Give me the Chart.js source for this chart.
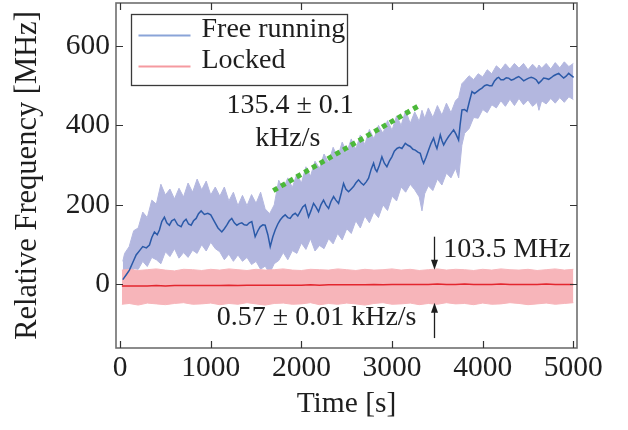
<!DOCTYPE html>
<html>
<head>
<meta charset="utf-8">
<script src="https://cdn.jsdelivr.net/npm/chart.js@4.4.0/dist/chart.umd.min.js"></script>
<style>
  html, body { margin: 0; padding: 0; background: #fff; }
  #wrap { width: 628px; height: 430px; }
</style>
</head>
<body>
<div id="wrap"><canvas id="freqChart" width="628" height="430"></canvas></div>
<script>
// axis ticks
const xTicks = [0, 1000, 2000, 3000, 4000, 5000];
const yTicks = [0, 200, 400, 600];

// free running: smoothed trace
const freeT = [30, 70, 103, 140, 177, 215, 250, 290, 324, 350, 379, 410, 434, 460, 489, 515, 544, 570, 600, 635,
  673, 700, 728, 755, 784, 810, 839, 865, 894, 930, 968, 1000, 1041, 1080, 1122, 1150, 1177, 1205, 1232, 1260,
  1288, 1315, 1343, 1370, 1398, 1425, 1453, 1490, 1520, 1545, 1575, 1600, 1630, 1656, 1685, 1711, 1740, 1766, 1795, 1821,
  1850, 1876, 1905, 1932, 1960, 1987, 2015, 2042, 2079, 2105, 2134, 2160, 2189, 2215, 2244, 2270, 2300, 2325, 2355, 2380,
  2410, 2440, 2465, 2490, 2520, 2550, 2575, 2600, 2630, 2660, 2686, 2715, 2741, 2770, 2796, 2815, 2833, 2860, 2888, 2915,
  2943, 2970, 2998, 3025, 3054, 3080, 3109, 3146, 3175, 3201, 3230, 3256, 3285, 3311, 3330, 3348, 3375, 3403, 3430, 3458,
  3478, 3495, 3515, 3532, 3550, 3569, 3595, 3624, 3650, 3679, 3705, 3734, 3750, 3771, 3800, 3826, 3855, 3882, 3910, 3937,
  3965, 3992, 4020, 4047, 4075, 4102, 4130, 4158, 4176, 4200, 4231, 4260, 4286, 4315, 4342, 4370, 4397, 4425, 4452, 4480,
  4507, 4535, 4562, 4590, 4617, 4645, 4672, 4700, 4728, 4755, 4783, 4810, 4838, 4865, 4893, 4920, 4948, 4975, 5003];
const freeMean = [12, 25, 36, 55, 74, 85, 95, 92, 99, 118, 132, 125, 137, 158, 169, 155, 149, 160, 164, 150,
  145, 158, 164, 152, 149, 160, 166, 178, 185, 176, 179, 175, 158, 142, 132, 140, 149, 160, 166, 155,
  149, 153, 155, 150, 149, 155, 158, 120, 135, 145, 150, 149, 125, 95, 120, 137, 152, 162, 170, 175,
  168, 166, 175, 179, 172, 183, 195, 200, 170, 185, 204, 195, 183, 200, 212, 200, 191, 208, 221, 212,
  204, 230, 254, 240, 233, 240, 246, 255, 263, 255, 250, 258, 267, 290, 305, 290, 284, 300, 321, 305,
  296, 310, 321, 335, 342, 345, 342, 355, 350, 347, 340, 338, 333, 330, 315, 305, 320, 338, 355, 368,
  352, 342, 360, 376, 362, 351, 362, 372, 380, 389, 378, 363, 400, 439, 440, 435, 462, 485, 480, 485,
  490, 494, 500, 502, 500, 500, 512, 519, 521, 515, 515, 520, 519, 514, 516, 520, 523, 518, 512, 516,
  519, 521, 519, 515, 506, 512, 519, 518, 516, 520, 525, 528, 531, 525, 519, 524, 531, 526, 521];

// free running: raw signal envelope
const bandT = [30, 50, 100, 150, 200, 250, 300, 350, 400, 450,
  500, 550, 600, 650, 700, 750, 800, 850, 900, 950,
  1000, 1050, 1100, 1150, 1200, 1250, 1300, 1350, 1400, 1450,
  1500, 1550, 1600, 1650, 1700, 1750, 1800, 1850, 1900, 1950,
  2000, 2050, 2100, 2150, 2200, 2250, 2300, 2350, 2400, 2450,
  2500, 2550, 2600, 2650, 2700, 2750, 2800, 2850, 2900, 2950,
  3000, 3050, 3100, 3150, 3200, 3250, 3300, 3330, 3360,
  3400, 3450, 3500, 3550, 3600, 3650, 3700, 3735, 3770,
  3800, 3850, 3900, 3950, 4000, 4050, 4100, 4150, 4200, 4250, 4300, 4350, 4400, 4450, 4500, 4550, 4600, 4620,
  4650, 4700, 4750, 4800, 4850, 4900, 4950, 5000];
const bandHi = [58, 78, 95, 135, 142, 182, 168, 212, 202, 252,
  225, 240, 215, 242, 220, 255, 232, 265, 238, 260,
  225, 245, 222, 245, 210, 232, 198, 224, 198, 226,
  204, 232, 190, 178, 200, 262, 240, 268, 244, 278,
  255, 296, 272, 310, 292, 328, 306, 345, 320, 358,
  332, 366, 340, 376, 352, 390, 366, 400, 380, 412,
  388, 424, 400, 438, 405, 434, 410, 438, 418,
  444, 420, 450, 426, 456, 432, 462, 470, 505,
  512, 525, 515, 530, 522, 540, 530, 550, 540, 555, 542, 556, 544, 556, 540, 554, 542, 552,
  544, 556, 542, 558, 545, 560, 548, 556];
const bandLo = [-20, 5, 15, 40, 38, 58, 45, 68, 62, 52,
  82, 70, 90, 66, 80, 68, 86, 78, 100, 84,
  106, 90, 82, 62, 76, 58, 74, 58, 68, 50,
  58, 38, 46, 28, 52, 60, 80, 62, 85, 78,
  104, 88, 115, 84, 98, 90, 115, 102, 128, 112,
  140, 128, 160, 142, 172, 155, 182, 168, 200, 186,
  222, 210, 245, 232, 252, 238, 220, 185, 228,
  248, 236, 265, 250, 280, 268, 292, 268, 350,
  380, 392, 420, 418, 440, 432, 452, 444, 462, 448, 466, 450, 468, 452, 464, 448, 458, 438,
  462, 454, 468, 456, 470, 458, 472, 465];

// locked laser
const lockT = [20, 100, 200, 300, 400, 500, 600, 700, 800, 900, 1000, 1100, 1200, 1300, 1400, 1500, 1600, 1700,
  1800, 1900, 2000, 2100, 2200, 2300, 2400, 2500, 2600, 2700, 2800, 2900, 3000, 3100, 3200, 3300, 3400,
  3500, 3600, 3700, 3800, 3900, 4000, 4100, 4200, 4300, 4400, 4500, 4600, 4700, 4800, 4900, 5000];
const lockHi = [36, 38, 35, 37, 39, 36, 34, 38, 37, 35, 38, 36, 39, 37, 35, 38, 36, 37, 39, 36,
  35, 38, 37, 36, 39, 37, 35, 38, 36, 37, 39, 36, 38, 35, 37, 39, 36, 38, 37, 35,
  38, 36, 39, 37, 36, 38, 35, 37, 39, 36, 38];
const lockLo = [-50, -48, -52, -47, -49, -51, -48, -46, -50, -49, -47, -51, -48, -50, -46, -49, -52, -48, -47, -50,
  -49, -46, -51, -48, -50, -47, -49, -52, -48, -46, -50, -49, -47, -51, -48, -50, -46, -49, -48, -51,
  -47, -50, -49, -46, -48, -51, -49, -47, -50, -48, -46];
const lockMean = [-4, -4, -4, -4, -3, -4, -3, -3, -3, -3, -3, -3, -2, -3, -2, -2, -2, -2, -2, -2,
  -2, -1, -2, -1, -1, -1, -1, -1, 0, -1, 0, 0, 0, 0, 0, 1, 0, 0, 1, 0,
  0, 0, 1, 0, 0, 0, 0, 1, 0, 0, 0];

// linear drift fit (green dotted)
const fitT = [1690, 3292];
const fitY = [236, 449];

const SERIF = '"Liberation Serif", "Times New Roman", serif';
const INK = '#1e1e1e';

function pts(xs, ys) {
    return xs.map((x, i) => ({ x: x, y: ys[i] }));
}

// box frame with ticks pointing inwards on all four sides
const framePlugin = {
    id: 'frame',
    afterDraw(chart) {
        const { ctx, chartArea: a, scales: { x, y } } = chart;
        ctx.save();
        ctx.strokeStyle = '#6e6e6e';
        ctx.lineWidth = 1.6;
        ctx.strokeRect(a.left, a.top, a.right - a.left, a.bottom - a.top);
        ctx.strokeStyle = '#333';
        ctx.lineWidth = 1.2;
        ctx.beginPath();
        xTicks.forEach(v => {
            const px = Math.round(x.getPixelForValue(v)) + 0.5;
            ctx.moveTo(px, a.bottom); ctx.lineTo(px, a.bottom - 7);
            ctx.moveTo(px, a.top); ctx.lineTo(px, a.top + 7);
        });
        yTicks.forEach(v => {
            const py = Math.round(y.getPixelForValue(v)) + 0.5;
            ctx.moveTo(a.left, py); ctx.lineTo(a.left + 7, py);
            ctx.moveTo(a.right, py); ctx.lineTo(a.right - 7, py);
        });
        ctx.stroke();
        ctx.restore();
    }
};

function arrow(ctx, x, y0, y1) {
    const dir = y1 > y0 ? 1 : -1;
    ctx.beginPath();
    ctx.moveTo(x, y0);
    ctx.lineTo(x, y1 - dir * 8);
    ctx.stroke();
    ctx.beginPath();
    ctx.moveTo(x, y1);
    ctx.lineTo(x - 3.5, y1 - dir * 10);
    ctx.lineTo(x + 3.5, y1 - dir * 10);
    ctx.closePath();
    ctx.fill();
}

// legend box and text annotations
const notesPlugin = {
    id: 'notes',
    afterDraw(chart) {
        const { ctx, chartArea: a, scales: { x, y } } = chart;
        ctx.save();

        // legend
        const lx = a.left + 15.5, ly = a.top + 11.5;
        ctx.fillStyle = '#fff';
        ctx.fillRect(lx, ly, 216, 71);
        ctx.strokeStyle = '#3a3a3a';
        ctx.lineWidth = 1.3;
        ctx.strokeRect(lx, ly, 216, 71);
        ctx.lineWidth = 2;
        ctx.strokeStyle = '#8aa4d8';
        ctx.beginPath(); ctx.moveTo(lx + 7, ly + 21); ctx.lineTo(lx + 59, ly + 21); ctx.stroke();
        ctx.strokeStyle = '#f59aa0';
        ctx.beginPath(); ctx.moveTo(lx + 7, ly + 52); ctx.lineTo(lx + 59, ly + 52); ctx.stroke();
        ctx.fillStyle = INK;
        ctx.font = '28px ' + SERIF;
        ctx.textBaseline = 'alphabetic';
        ctx.textAlign = 'left';
        ctx.fillText('Free running', lx + 70, ly + 22);
        ctx.fillText('Locked', lx + 70, ly + 53);

        // slope labels
        ctx.textAlign = 'center';
        ctx.fillText('135.4 \u00b1 0.1', x.getPixelForValue(1876), y.getPixelForValue(430));
        ctx.fillText('kHz/s', x.getPixelForValue(1850), y.getPixelForValue(348));
        ctx.textAlign = 'left';
        ctx.fillText('103.5 MHz', x.getPixelForValue(3565), y.getPixelForValue(69));
        ctx.fillText('0.57 \u00b1 0.01 kHz/s', x.getPixelForValue(1067), y.getPixelForValue(-102));

        // width arrows
        ctx.strokeStyle = INK;
        ctx.fillStyle = INK;
        ctx.lineWidth = 1.3;
        const ax = Math.round(x.getPixelForValue(3466)) + 0.5;
        arrow(ctx, ax, y.getPixelForValue(120), y.getPixelForValue(37));
        arrow(ctx, ax, y.getPixelForValue(-135), y.getPixelForValue(-46));
        ctx.restore();
    }
};

const ctxFreq = document.getElementById('freqChart').getContext('2d');
const freqChart = new Chart(ctxFreq, {
    type: 'line',
    data: {
        datasets: [
            {
                label: 'Free running low',
                data: pts(bandT, bandLo),
                borderColor: '#b3b7df',
                borderWidth: 1,
                fill: false,
                order: 10
            },
            {
                label: 'Free running high',
                data: pts(bandT, bandHi),
                borderColor: '#b3b7df',
                backgroundColor: '#b3b7df',
                borderWidth: 1,
                fill: '-1',
                order: 9
            },
            {
                label: 'Locked low',
                data: pts(lockT, lockLo),
                borderColor: '#f7b5ba',
                borderWidth: 1,
                fill: false,
                order: 8
            },
            {
                label: 'Locked high',
                data: pts(lockT, lockHi),
                borderColor: '#f7b5ba',
                backgroundColor: '#f7b5ba',
                borderWidth: 1,
                fill: '-1',
                order: 7
            },
            {
                label: 'Locked',
                data: pts(lockT, lockMean),
                borderColor: '#e3262e',
                borderWidth: 1.5,
                fill: false,
                order: 3
            },
            {
                label: 'Free running',
                data: pts(freeT, freeMean),
                borderColor: '#2b5aa8',
                borderWidth: 1.5,
                fill: false,
                order: 1
            },
            {
                label: 'Fit',
                data: pts(fitT, fitY),
                borderColor: '#4cb83a',
                borderWidth: 5,
                borderDash: [5, 4],
                borderCapStyle: 'butt',
                fill: false,
                order: 2
            }
        ]
    },
    options: {
        responsive: false,
        animation: false,
        devicePixelRatio: 1,
        layout: { padding: { top: 3, right: 51, left: 0, bottom: 0 } },
        elements: { point: { radius: 0 }, line: { tension: 0 } },
        plugins: {
            legend: { display: false },
            tooltip: { enabled: false }
        },
        scales: {
            x: {
                type: 'linear',
                min: -45,
                max: 5040,
                grid: { display: false, drawTicks: false },
                border: { display: false },
                afterBuildTicks: function(scale) {
                    scale.ticks = xTicks.map(v => ({ value: v }));
                },
                afterFit: function(scale) {
                    scale.height = 82;
                    scale.paddingLeft = 0;
                    scale.paddingRight = 0;
                },
                ticks: {
                    autoSkip: false,
                    maxRotation: 0,
                    padding: 3,
                    color: INK,
                    font: { family: SERIF, size: 29.5 },
                    callback: function(value) { return String(value); }
                },
                title: {
                    display: true,
                    text: 'Time [s]',
                    color: INK,
                    font: { family: SERIF, size: 29.5 },
                    padding: { top: 0, bottom: 8 }
                }
            },
            y: {
                type: 'linear',
                min: -160,
                max: 708,
                grid: { display: false, drawTicks: false },
                border: { display: false },
                afterBuildTicks: function(scale) {
                    scale.ticks = yTicks.map(v => ({ value: v }));
                },
                afterFit: function(scale) {
                    scale.width = 116;
                    scale.paddingTop = 0;
                    scale.paddingBottom = 0;
                },
                ticks: {
                    padding: 6,
                    color: INK,
                    font: { family: SERIF, size: 29.5 },
                    callback: function(value) { return String(value); }
                },
                title: {
                    display: true,
                    text: 'Relative Frequency [MHz]',
                    color: INK,
                    font: { family: SERIF, size: 30.5 },
                    padding: { top: 10, bottom: 0 }
                }
            }
        }
    },
    plugins: [framePlugin, notesPlugin]
});
</script>
</body>
</html>
